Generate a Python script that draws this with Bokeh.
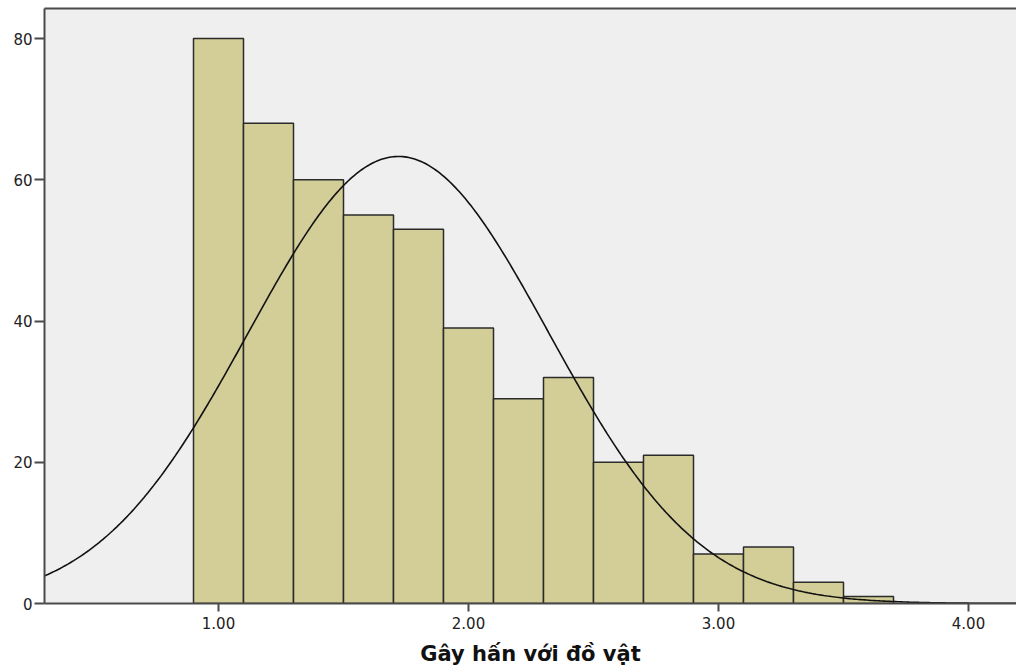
import numpy as np
from bokeh.plotting import figure
from bokeh.models import LinearAxis, FixedTicker, NumeralTickFormatter, Range1d
from bokeh.embed import file_html
from bokeh.resources import INLINE

# ---- data ----
bin_left = [0.9, 1.1, 1.3, 1.5, 1.7, 1.9, 2.1, 2.3, 2.5, 2.7, 2.9, 3.1, 3.3, 3.5]
bin_right = [1.1, 1.3, 1.5, 1.7, 1.9, 2.1, 2.3, 2.5, 2.7, 2.9, 3.1, 3.3, 3.5, 3.7]
counts = [80, 68, 60, 55, 53, 39, 29, 32, 20, 21, 7, 8, 3, 1]
x_ticks = [1, 2, 3, 4]
y_ticks = [0, 20, 40, 60, 80]
x_label = "Gây hấn với đồ vật"

# fitted normal curve parameters (SPSS-style overlay)
mean = 1.72
sd = 0.60
n_total = sum(counts)
bin_width = 0.2

x_min, x_max = 0.304, 4.192
y_min, y_max = 0, 84.25

p = figure(width=1016, height=668, output_backend="svg", toolbar_location=None,
           x_range=Range1d(x_min, x_max), y_range=Range1d(y_min, y_max),
           min_border_left=44, min_border_right=0, min_border_top=8, min_border_bottom=65)

p.background_fill_color = "#EFEFEF"
p.border_fill_color = "white"
p.outline_line_color = None
p.xgrid.grid_line_color = None
p.ygrid.grid_line_color = None

p.quad(left=bin_left, right=bin_right, bottom=0, top=counts,
       fill_color="#D3CE97", line_color="#2b2b2b", line_width=1.5)

xs = np.linspace(x_min, x_max, 500)
ys = n_total * bin_width / (sd * np.sqrt(2 * np.pi)) * np.exp(-0.5 * ((xs - mean) / sd) ** 2)
p.line(xs, ys, line_color="#111111", line_width=1.6)

axis_color = "#4a4a4a"
for ax in (p.xaxis[0], p.yaxis[0]):
    ax.axis_line_color = axis_color
    ax.axis_line_width = 2
    ax.major_tick_line_color = axis_color
    ax.major_tick_line_width = 2
    ax.major_tick_in = 0
    ax.minor_tick_line_color = None
    ax.major_label_text_font = "DejaVu Sans"
    ax.major_label_text_font_size = "15px"
    ax.major_label_text_color = "#222222"

p.xaxis.ticker = FixedTicker(ticks=x_ticks)
p.xaxis.formatter = NumeralTickFormatter(format="0.00")
p.xaxis.major_tick_out = 8
p.xaxis.major_label_standoff = 5
p.xaxis.axis_label = x_label
p.xaxis.axis_label_text_font = "DejaVu Sans"
p.xaxis.axis_label_text_font_style = "bold"
p.xaxis.axis_label_text_font_size = "21px"
p.xaxis.axis_label_text_color = "#111111"
p.xaxis.axis_label_standoff = 10

p.yaxis.ticker = FixedTicker(ticks=y_ticks)
p.yaxis.major_tick_out = 10
p.yaxis.major_label_standoff = 2

top = LinearAxis(ticker=FixedTicker(ticks=[]), axis_line_color=axis_color, axis_line_width=2,
                 major_tick_line_color=None, minor_tick_line_color=None,
                 major_label_standoff=0, major_tick_out=0, major_tick_in=0)
p.add_layout(top, "above")

open("out.html", "w").write(file_html(p, INLINE))
